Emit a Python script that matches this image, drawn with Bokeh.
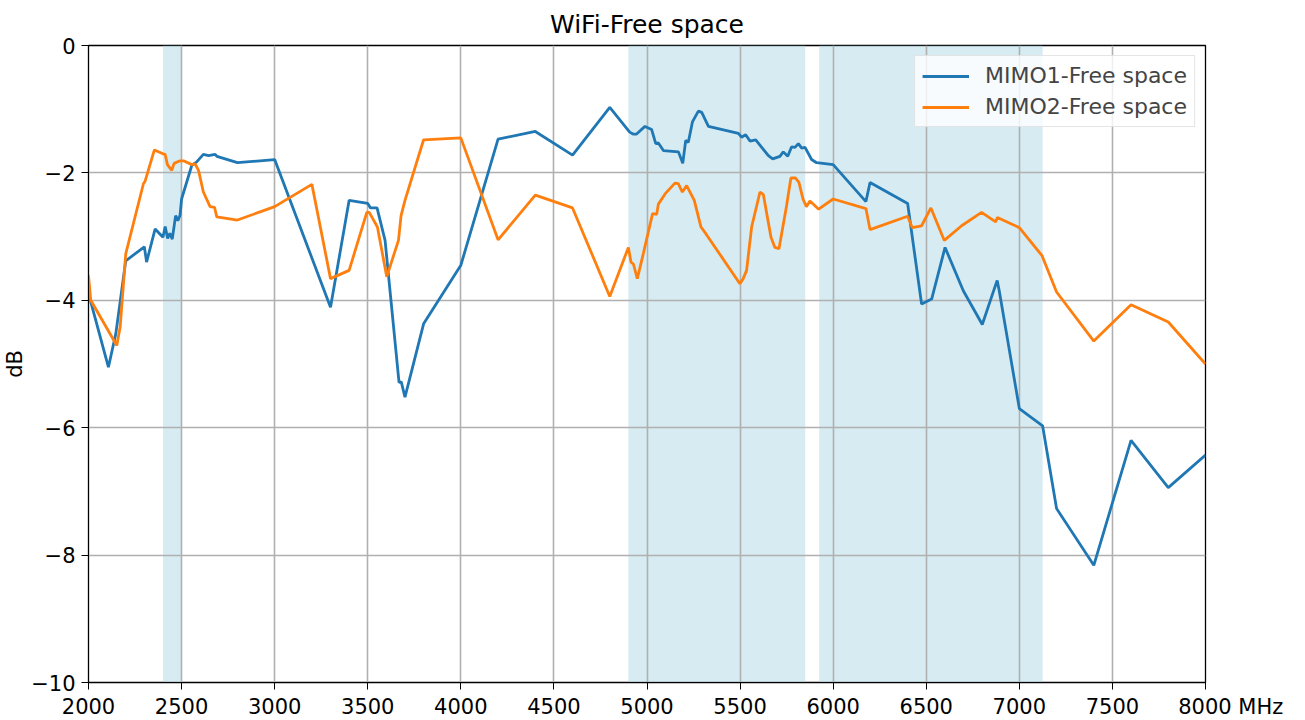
from bokeh.plotting import figure
from bokeh.models import BoxAnnotation, FixedTicker, Legend, LegendItem
from bokeh.embed import file_html
from bokeh.resources import INLINE

mimo1_freq = [2000, 2010, 2107, 2147, 2200, 2300, 2312, 2358, 2400, 2412, 2425, 2437, 2450, 2468,
              2480, 2492, 2500, 2555, 2580, 2617, 2645, 2680, 2690, 2800, 3000, 3300, 3400, 3500,
              3515, 3550, 3593, 3668, 3680, 3700, 3800, 4000, 4200, 4400, 4600, 4800, 4907, 4925,
              4944, 4989, 5025, 5047, 5061, 5088, 5169, 5192, 5208, 5222, 5244, 5276, 5294, 5330,
              5491, 5508, 5530, 5553, 5584, 5652, 5675, 5714, 5732, 5756, 5777, 5795, 5813, 5831,
              5849, 5884, 5911, 6000, 6176, 6198, 6400, 6475, 6529, 6601, 6699, 6801, 6869, 6881,
              6892, 7000, 7125, 7200, 7400, 7600, 7800, 8000]
mimo1_db = [-3.95, -4.0, -5.05, -4.52, -3.38, -3.16, -3.40, -2.88, -3.01, -2.84, -3.03, -2.95, -3.04, -2.67,
            -2.75, -2.66, -2.41, -1.88, -1.83, -1.71, -1.73, -1.71, -1.74, -1.84, -1.79, -4.11, -2.43, -2.48,
            -2.55, -2.55, -3.06, -5.29, -5.28, -5.52, -4.37, -3.45, -1.47, -1.35, -1.72, -0.97, -1.36, -1.39,
            -1.39, -1.27, -1.32, -1.54, -1.53, -1.65, -1.67, -1.85, -1.49, -1.52, -1.20, -1.03, -1.05, -1.27,
            -1.38, -1.44, -1.40, -1.50, -1.48, -1.73, -1.78, -1.74, -1.67, -1.74, -1.59, -1.60, -1.54, -1.61,
            -1.60, -1.79, -1.84, -1.87, -2.45, -2.15, -2.48, -4.06, -3.98, -3.17, -3.85, -4.38, -3.79, -3.69,
            -3.85, -5.70, -5.97, -7.27, -8.16, -6.20, -6.94, -6.43]

mimo2_freq = [2000, 2012, 2152, 2170, 2200, 2295, 2304, 2354, 2400, 2412, 2424, 2447, 2460, 2492,
              2510, 2555, 2573, 2591, 2617, 2653, 2677, 2689, 2800, 3000, 3200, 3300, 3400, 3495,
              3508, 3552, 3602, 3665, 3679, 3700, 3800, 4000, 4200, 4400, 4600, 4800, 4900, 4914,
              4927, 4948, 4980, 5030, 5052, 5061, 5097, 5150, 5168, 5190, 5213, 5254, 5290, 5315,
              5499, 5517, 5535, 5562, 5607, 5625, 5666, 5687, 5709, 5750, 5773, 5798, 5816, 5838,
              5856, 5875, 5922, 6000, 6176, 6198, 6400, 6425, 6475, 6525, 6597, 6690, 6797, 6873,
              6882, 7000, 7122, 7200, 7400, 7600, 7800, 8000]
mimo2_db = [-3.61, -4.0, -4.71, -4.42, -3.27, -2.17, -2.13, -1.64, -1.70, -1.71, -1.87, -1.96, -1.85, -1.81,
            -1.81, -1.87, -1.86, -1.96, -2.30, -2.53, -2.54, -2.69, -2.74, -2.53, -2.18, -3.66, -3.53, -2.62,
            -2.62, -2.85, -3.63, -3.06, -2.67, -2.43, -1.48, -1.45, -3.05, -2.35, -2.55, -3.94, -3.17, -3.40,
            -3.43, -3.66, -3.27, -2.64, -2.65, -2.49, -2.33, -2.16, -2.17, -2.30, -2.20, -2.43, -2.85, -2.95,
            -3.74, -3.66, -3.53, -2.85, -2.30, -2.34, -3.01, -3.17, -3.19, -2.51, -2.08, -2.08, -2.15, -2.41,
            -2.53, -2.44, -2.57, -2.41, -2.56, -2.89, -2.68, -2.86, -2.83, -2.55, -3.06, -2.83, -2.62, -2.77,
            -2.70, -2.86, -3.30, -3.87, -4.64, -4.07, -4.34, -5.00]

band_start = [2400, 4900, 5925]
band_end = [2500, 5850, 7125]

x_ticks = [2000, 2500, 3000, 3500, 4000, 4500, 5000, 5500, 6000, 6500, 7000, 7500, 8000]
y_ticks = [0, -2, -4, -6, -8, -10]
x_unit = "MHz"

FONT = "DejaVu Sans"

p = figure(frame_width=1117, frame_height=637, min_border_left=82, min_border_right=90,
           min_border_top=45, min_border_bottom=38,
           x_range=(2000, 8000), y_range=(-10, 0),
           output_backend="svg", toolbar_location=None,
           title="WiFi-Free space")

p.title.align = "center"
p.title.text_font = FONT
p.title.text_font_size = "25px"
p.title.text_font_style = "normal"
p.title.text_color = "#000000"
p.title.standoff = 14

p.outline_line_color = "#000000"
p.outline_line_width = 1.3
p.outline_line_alpha = 1

for s, e in zip(band_start, band_end):
    p.add_layout(BoxAnnotation(left=s, right=e, fill_color="#add8e6", fill_alpha=0.5,
                               line_alpha=0, level="image"))

for g in (p.xgrid, p.ygrid):
    g.grid_line_color = "#b0b0b0"
    g.grid_line_width = 1.6
    g.grid_line_alpha = 1

p.xaxis.ticker = FixedTicker(ticks=x_ticks)
p.yaxis.ticker = FixedTicker(ticks=y_ticks)
for ax in (p.xaxis, p.yaxis):
    ax.major_label_text_font = FONT
    ax.major_label_text_font_size = "21px"
    ax.major_label_text_color = "#000000"
    ax.minor_tick_line_color = None
    ax.major_tick_out = 7
    ax.major_tick_in = 0
    ax.axis_line_color = "#000000"
    ax.major_tick_line_color = "#000000"
p.xaxis.major_label_standoff = 5
p.yaxis.major_label_standoff = 6
# last tick label carries the unit, padded on the left so that the number stays centred on its tick
p.xaxis.major_label_overrides = {x_ticks[-1]: "\u2007\u2007\u2007\u2002" + str(x_ticks[-1]) + " " + x_unit}
p.yaxis.axis_label = "dB"
p.yaxis.axis_label_text_font = FONT
p.yaxis.axis_label_text_font_size = "21px"
p.yaxis.axis_label_text_font_style = "normal"
p.yaxis.axis_label_text_color = "#000000"
p.yaxis.axis_label_standoff = 1

r1 = p.line(mimo1_freq, mimo1_db, line_color="#1f77b4", line_width=2.8)
r2 = p.line(mimo2_freq, mimo2_db, line_color="#ff7f0e", line_width=2.8)

legend = Legend(items=[LegendItem(label="MIMO1-Free space", renderers=[r1]),
                       LegendItem(label="MIMO2-Free space", renderers=[r2])],
                location="top_right")
legend.label_text_font = FONT
legend.label_text_font_size = "22px"
legend.glyph_width = 47
legend.label_standoff = 16
legend.spacing = 6
legend.padding = 7
legend.margin = 10
legend.border_line_color = "#cccccc"
legend.border_line_width = 1
legend.background_fill_color = "#ffffff"
legend.background_fill_alpha = 0.8
p.add_layout(legend)

open("out.html", "w").write(file_html(p, INLINE))
